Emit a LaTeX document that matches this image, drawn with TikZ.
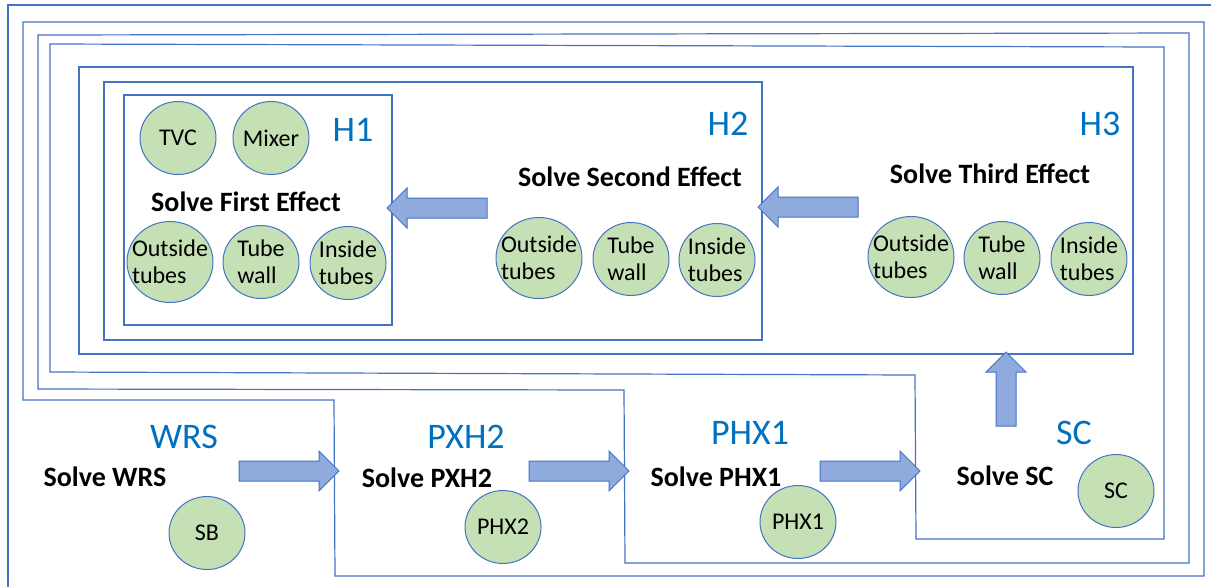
\documentclass[tikz,border=0pt]{standalone}
\usepackage{fontspec}
\setmainfont{Carlito}
\usetikzlibrary{shapes.geometric,shapes.arrows}
\definecolor{linea}{HTML}{4472C4}
\definecolor{verde}{HTML}{C5E0B4}
\definecolor{freccia}{HTML}{8FAADC}
\definecolor{titolo}{HTML}{0070C0}
\begin{document}
\begin{tikzpicture}[x=0.5pt, y=-0.5pt,
    wire/.style={draw=linea, line width=0.6pt},
    bubble/.style={ellipse, draw=linea, fill=verde, line width=0.5pt, inner sep=0pt, minimum width=38pt, minimum height=36.5pt},
    wide/.style={bubble, minimum width=43pt, minimum height=40.5pt},
    intext/.style={font=\fontsize{12}{13.5}\selectfont, align=left, inner sep=0pt},
    solve/.style={font=\fontsize{14}{16}\selectfont\bfseries, inner sep=0pt},
    tag/.style={font=\fontsize{18}{20}\selectfont, text=titolo, inner sep=0pt},
    fat/.style={single arrow, draw=linea, fill=freccia, line width=0.5pt, inner xsep=0pt, inner ysep=4.75pt, minimum width=19.5pt, single arrow head extend=5pt, single arrow head indent=0pt, minimum height=50pt}]
    \useasboundingbox (0,0) rectangle (1211,586);

    % Cornici annidate (WRS, PXH2, PHX1, SC)
    \draw[wire] (8,5) rectangle (1240,620);
    \draw[wire] (23,22) -- (1204,22) -- (1204,576) -- (335,576) -- (334,400) -- (23,400) -- cycle;
    \draw[wire] (38,35) -- (1189,33) -- (1189,563) -- (625,563) -- (624,390) -- (38,389) -- cycle;
    \draw[wire] (50,44) -- (1164,47) -- (1164,539) -- (916,539) -- (915,375) -- (50,372) -- cycle;

    % Effetti H3, H2, H1
    \draw[wire] (79,67) rectangle (1133,354);
    \draw[wire, fill=white] (104,82) rectangle (762,340);
    \draw[wire, fill=white] (124,95) rectangle (392,325);

    % Primo effetto
    \node[tag] (h1) at (353,130) {H1};
    \node[bubble, label={[intext]center:TVC}] (tvc) at (178,138) {};
    \node[bubble, label={[intext]center:Mixer}] (mixer) at (271,138) {};
    \node[solve] (solve1) at (246,202) {Solve First Effect};
    \node[wide, label={[intext]center:Outside\\tubes}] (out1) at (170,262) {};
    \node[bubble, label={[intext]center:Tube\\wall}] (wall1) at (261,262) {};
    \node[bubble, label={[intext]center:Inside\\tubes}] (in1) at (348,263) {};

    % Secondo effetto
    \node[tag] (h2) at (728,124) {H2};
    \node[solve] (solve2) at (630,177) {Solve Second Effect};
    \node[wide, label={[intext]center:Outside\\tubes}] (out2) at (539,258) {};
    \node[bubble, label={[intext]center:Tube\\wall}] (wall2) at (631,259) {};
    \node[bubble, label={[intext]center:Inside\\tubes}] (in2) at (717,260) {};

    % Terzo effetto
    \node[tag] (h3) at (1100,124) {H3};
    \node[solve] (solve3) at (990,174) {Solve Third Effect};
    \node[wide, label={[intext]center:Outside\\tubes}] (out3) at (911,257) {};
    \node[bubble, label={[intext]center:Tube\\wall}] (wall3) at (1002,258) {};
    \node[bubble, label={[intext]center:Inside\\tubes}] (in3) at (1089,259) {};

    % Blocchi in basso
    \node[tag] (wrs) at (184,437) {WRS};
    \node[solve] (solvewrs) at (105,477) {Solve WRS};
    \node[bubble, label={[intext]center:SB}] (sb) at (207,533) {};

    \node[tag] (pxh2) at (466,437) {PXH2};
    \node[solve] (solvepxh2) at (427,478) {Solve PXH2};
    \node[bubble, label={[intext]center:PHX2}] (phx2) at (503,527) {};

    \node[tag] (phx1) at (750,433) {PHX1};
    \node[solve] (solvephx1) at (716,477) {Solve PHX1};
    \node[bubble, label={[intext]center:PHX1}] (phx1c) at (798,522) {};

    \node[tag] (sc) at (1074,433) {SC};
    \node[solve] (solvesc) at (1005,476) {Solve SC};
    \node[bubble, label={[intext]center:SC}] (scc) at (1116,491) {};

    % Frecce
    \node[fat, rotate=180] (a32) at (813,207) {};
    \node[fat, rotate=180] (a21) at (442,208) {};
    \node[fat] (b1) at (284,471) {};
    \node[fat] (b2) at (574,471) {};
    \node[fat] (b3) at (865,471) {};
    \node[fat, rotate=90, minimum height=37pt] (up) at (1006,394) {};
\end{tikzpicture}
\end{document}
